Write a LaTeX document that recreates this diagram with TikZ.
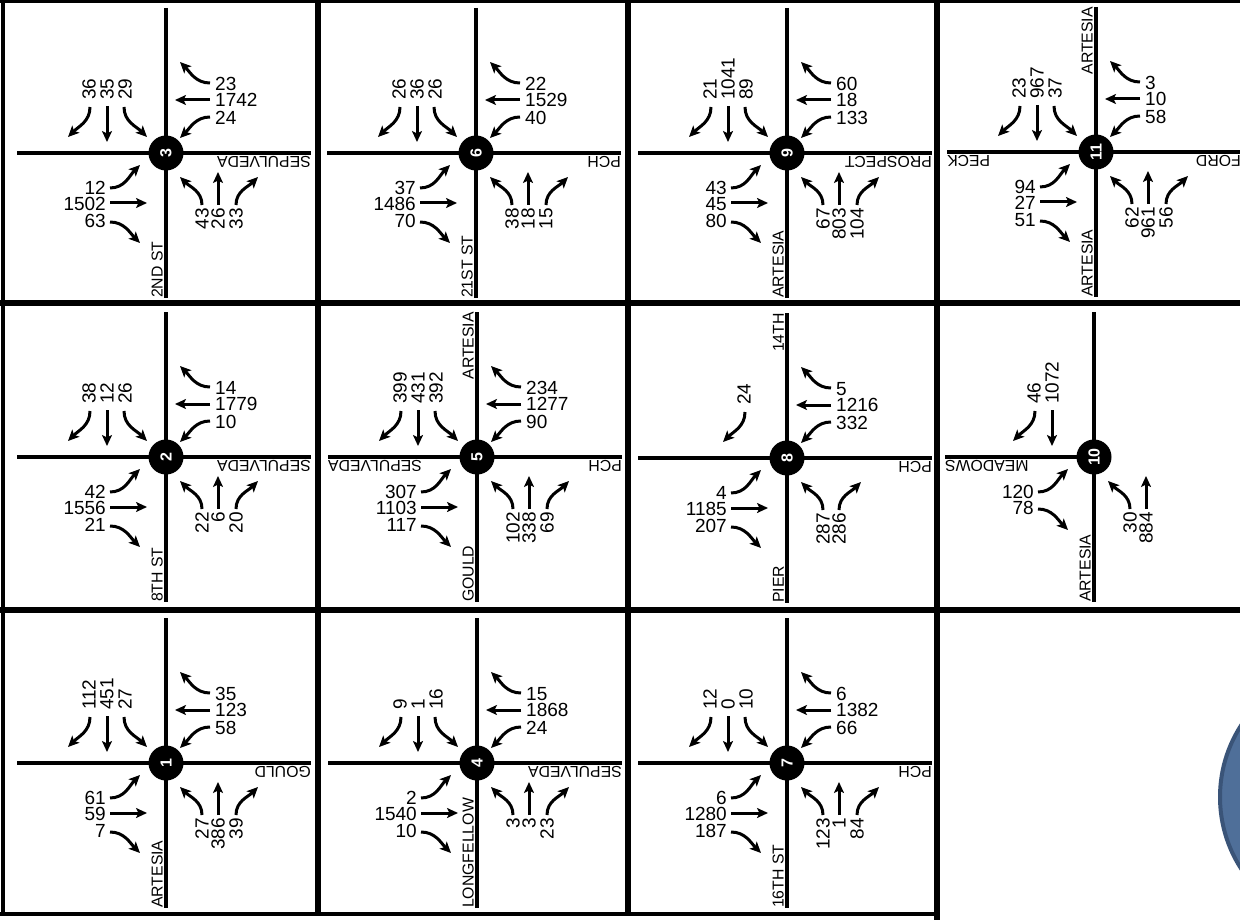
\documentclass[tikz,border=0pt]{standalone}
\usepackage{fontspec}
\setmainfont{Liberation Sans}
\usetikzlibrary{arrows.meta}
\newcommand\numfont{\fontsize{19}{19}\selectfont}
\newcommand\stfont{\fontsize{15.8}{16}\selectfont}
\newcommand\badgefont{\fontsize{16}{16}\selectfont\bfseries}
\definecolor{discblue}{HTML}{4F6F99}
\definecolor{discedge}{HTML}{3A5478}
\tikzset{
  mv/.style={line width=3pt,-{Stealth[length=11pt,width=10pt,inset=2.5pt]}},
  vol/.style={font=\numfont,inner sep=0pt},
  street/.style={line width=3.2pt},
  stname/.style={font=\stfont,inner sep=0pt},
  badge/.style={circle,fill=black,minimum size=35pt,inner sep=0pt,text=white,font=\badgefont,rotate=90},
  gridline/.style={line width=6pt},
  outerline/.style={line width=4pt}
}
% northbound (bottom-right quadrant)
\newcommand\mvNL[1]{\draw[mv] (36,-52) to[out=90,in=-45] (14,-24); \node[vol,rotate=90,anchor=east] at (36,-55) {#1};}
\newcommand\mvNT[1]{\draw[mv] (52,-52) -- (52,-19); \node[vol,rotate=90,anchor=east] at (52,-55) {#1};}
\newcommand\mvNR[1]{\draw[mv] (70,-52) to[out=90,in=-135] (92,-24); \node[vol,rotate=90,anchor=east] at (70,-55) {#1};}
% westbound (top-right quadrant)
\newcommand\mvWR[1]{\draw[mv] (44,70) to[out=180,in=-45] (14,91); \node[vol,anchor=west] at (49,69) {#1};}
\newcommand\mvWT[1]{\draw[mv] (44,53) -- (9,53); \node[vol,anchor=west] at (49,53) {#1};}
\newcommand\mvWL[1]{\draw[mv] (44,36) to[out=180,in=45] (14,15); \node[vol,anchor=west] at (49,35) {#1};}
% southbound (top-left quadrant)
\newcommand\mvSR[1]{\draw[mv] (-76,46) to[out=-90,in=45] (-98,16); \node[vol,rotate=90,anchor=west] at (-77,53) {#1};}
\newcommand\mvST[1]{\draw[mv] (-59,47) -- (-59,11); \node[vol,rotate=90,anchor=west] at (-59,53) {#1};}
\newcommand\mvSL[1]{\draw[mv] (-42,46) to[out=-90,in=135] (-19,16); \node[vol,rotate=90,anchor=west] at (-41,53) {#1};}
% eastbound (bottom-left quadrant)
\newcommand\mvEL[1]{\draw[mv] (-56,-35) to[out=0,in=-135] (-26,-12); \node[vol,anchor=east] at (-60,-35) {#1};}
\newcommand\mvET[1]{\draw[mv] (-56,-50) -- (-19,-50); \node[vol,anchor=east] at (-60,-51) {#1};}
\newcommand\mvER[1]{\draw[mv] (-56,-69) to[out=0,in=135] (-26,-90); \node[vol,anchor=east] at (-60,-68) {#1};}
\newcommand\streets{\draw[street] (-149,0) -- (145,0); \draw[street] (0,145) -- (0,-145);}
\newcommand\stR[1]{\node[stname,rotate=180,anchor=south west] at (145,-3) {#1};}
\newcommand\stL[1]{\node[stname,rotate=180,anchor=south east] at (-149,-3) {#1};}
\newcommand\stB[1]{\node[stname,rotate=90,anchor=south west] at (-3,-145) {#1};}
\newcommand\stT[1]{\node[stname,rotate=90,anchor=south east] at (-3,145) {#1};}
\begin{document}
\begin{tikzpicture}[x=1pt,y=1pt]
\useasboundingbox (0,0) rectangle (1240,-920);
\fill[white] (0,0) rectangle (1240,-920);
\begin{scope}
\clip (0,0) rectangle (1240,-920);
\fill[discblue,draw=discedge,line width=4pt] (1352,-797) circle (132);
\end{scope}
% grid
\draw[outerline] (0,-1.5) -- (1240,-1.5);
\draw[gridline] (0,-303) -- (1240,-303);
\draw[gridline] (0,-609.5) -- (1240,-609.5);
\draw[outerline] (0,-914) -- (940,-914);
\draw[outerline] (3,0) -- (3,-916);
\draw[gridline] (318,0) -- (318,-916);
\draw[gridline] (628,0) -- (628,-916);
\draw[gridline] (937,0) -- (937,-920);
% intersection 3
\begin{scope}[shift={(166,-153)}]
\streets \node[badge] (i3) at (0,0) {3};
\mvSR{36}\mvST{35}\mvSL{29}
\mvWR{23}\mvWT{1742}\mvWL{24}
\mvEL{12}\mvET{1502}\mvER{63}
\mvNL{43}\mvNT{26}\mvNR{33}
\stR{SEPULVEDA}\stB{2ND ST}
\end{scope}
% intersection 6
\begin{scope}[shift={(476,-153)}]
\streets \node[badge] (i6) at (0,0) {6};
\mvSR{26}\mvST{36}\mvSL{26}
\mvWR{22}\mvWT{1529}\mvWL{40}
\mvEL{37}\mvET{1486}\mvER{70}
\mvNL{38}\mvNT{18}\mvNR{15}
\stR{PCH}\stB{21ST ST}
\end{scope}
% intersection 9
\begin{scope}[shift={(787,-153)}]
\streets \node[badge] (i9) at (0,0) {9};
\mvSR{21}\mvST{1041}\mvSL{89}
\mvWR{60}\mvWT{18}\mvWL{133}
\mvEL{43}\mvET{45}\mvER{80}
\mvNL{67}\mvNT{803}\mvNR{104}
\stR{PROSPECT}\stB{ARTESIA}
\end{scope}
% intersection 11
\begin{scope}[shift={(1096,-152)}]
\streets \node[badge] (i11) at (0,0) {11};
\mvSR{23}\mvST{967}\mvSL{37}
\mvWR{3}\mvWT{10}\mvWL{58}
\mvEL{94}\mvET{27}\mvER{51}
\mvNL{62}\mvNT{961}\mvNR{56}
\stT{ARTESIA}\stB{ARTESIA}\stL{PECK}\stR{FORD}
\end{scope}
% intersection 2
\begin{scope}[shift={(166,-457)}]
\streets \node[badge] (i2) at (0,0) {2};
\mvSR{38}\mvST{12}\mvSL{26}
\mvWR{14}\mvWT{1779}\mvWL{10}
\mvEL{42}\mvET{1556}\mvER{21}
\mvNL{22}\mvNT{6}\mvNR{20}
\stR{SEPULVEDA}\stB{8TH ST}
\end{scope}
% intersection 5
\begin{scope}[shift={(477,-457)}]
\streets \node[badge] (i5) at (0,0) {5};
\mvSR{399}\mvST{431}\mvSL{392}
\mvWR{234}\mvWT{1277}\mvWL{90}
\mvEL{307}\mvET{1103}\mvER{117}
\mvNL{102}\mvNT{338}\mvNR{69}
\stT{ARTESIA}\stL{SEPULVEDA}\stR{PCH}\stB{GOULD}
\end{scope}
% intersection 8
\begin{scope}[shift={(787,-458)}]
\streets \node[badge] (i8) at (0,0) {8};
\begin{scope}[xshift=34]\mvSR{24}\end{scope}
\mvWR{5}\mvWT{1216}\mvWL{332}
\mvEL{4}\mvET{1185}\mvER{207}
\mvNL{287}
\begin{scope}[xshift=-18]\mvNR{286}\end{scope}
\stT{14TH}\stR{PCH}\stB{PIER}
\end{scope}
% intersection 10
\begin{scope}[shift={(1094,-457)}]
\draw[street] (-149,0) -- (0,0); \draw[street] (0,145) -- (0,-145);
\node[badge] (i10) at (0,0) {10};
\begin{scope}[xshift=17]\mvSR{46}\mvST{1072}\end{scope}
\mvEL{120}
\begin{scope}[yshift=17]\mvER{78}\end{scope}
\mvNL{30}\mvNT{884}
\stL{MEADOWS}\stB{ARTESIA}
\end{scope}
% intersection 1
\begin{scope}[shift={(166,-763)}]
\streets \node[badge] (i1) at (0,0) {1};
\mvSR{112}\mvST{451}\mvSL{27}
\mvWR{35}\mvWT{123}\mvWL{58}
\mvEL{61}\mvET{59}\mvER{7}
\mvNL{27}\mvNT{386}\mvNR{39}
\stR{GOULD}\stB{ARTESIA}
\end{scope}
% intersection 4
\begin{scope}[shift={(477,-763)}]
\streets \node[badge] (i4) at (0,0) {4};
\mvSR{9}\mvST{1}\mvSL{16}
\mvWR{15}\mvWT{1868}\mvWL{24}
\mvEL{2}\mvET{1540}\mvER{10}
\mvNL{3}\mvNT{3}\mvNR{23}
\stR{SEPULVEDA}\stB{LONGFELLOW}
\end{scope}
% intersection 7
\begin{scope}[shift={(787,-763)}]
\streets \node[badge] (i7) at (0,0) {7};
\mvSR{12}\mvST{0}\mvSL{10}
\mvWR{6}\mvWT{1382}\mvWL{66}
\mvEL{6}\mvET{1280}\mvER{187}
\mvNL{123}\mvNT{1}\mvNR{84}
\stR{PCH}\stB{16TH ST}
\end{scope}
\end{tikzpicture}
\end{document}
